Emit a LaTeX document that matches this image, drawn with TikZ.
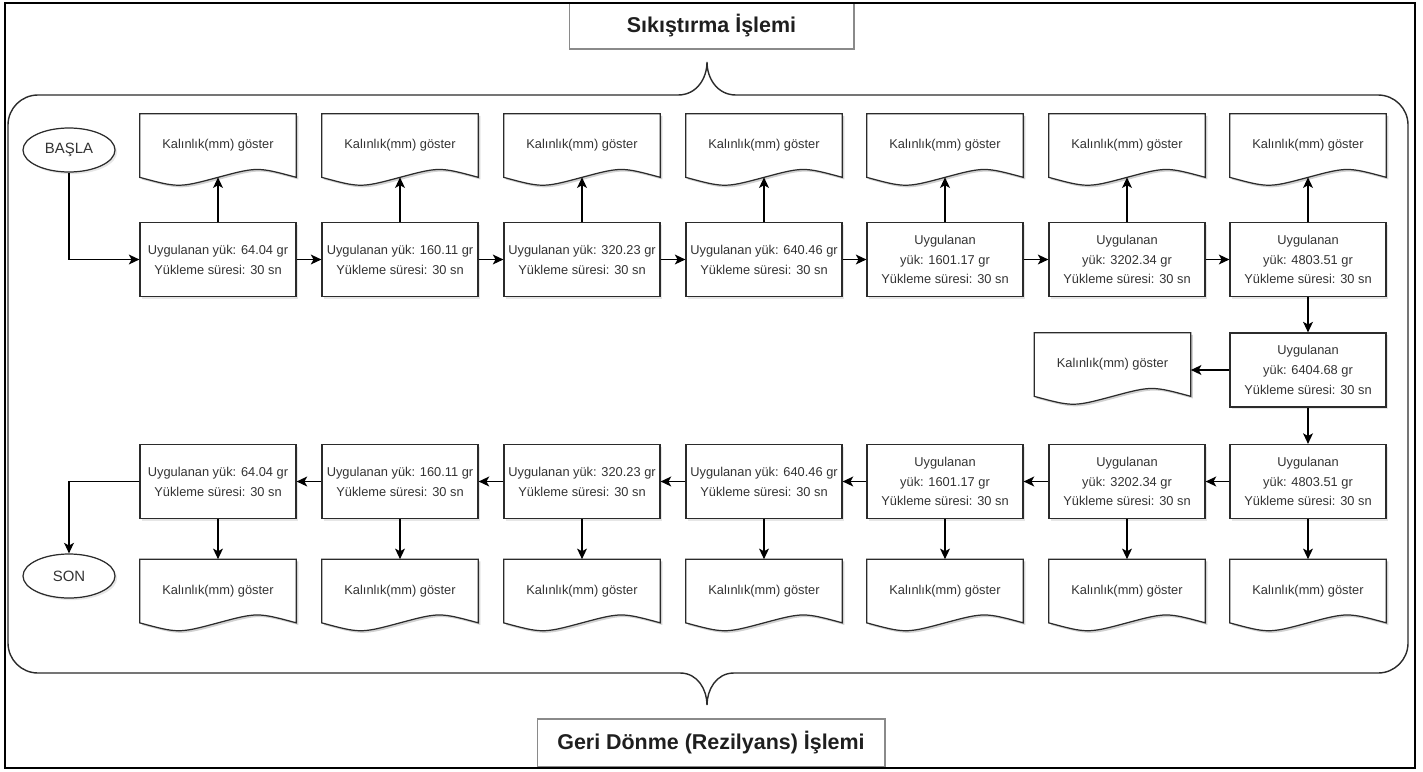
\documentclass[tikz,border=0pt]{standalone}
\usepackage{fontspec}
\setmainfont{Liberation Sans}
\usepackage{xcolor}
\usepackage{tikz}
\usetikzlibrary{positioning, arrows.meta, shapes.geometric, shadows, backgrounds}

\definecolor{yazi}{HTML}{333333}
\definecolor{cizgi}{HTML}{2B2B2B}
\definecolor{gricer}{HTML}{8A8A8A}

\tikzset{
  kutu/.style={draw=cizgi, line width=0.7pt, fill=white, minimum width=3.12cm, minimum height=1.48cm,
    inner sep=1pt, align=center, text=yazi, font=\fontsize{7.3}{11.3}\selectfont,
    drop shadow={shadow xshift=1.2pt, shadow yshift=-1.2pt, opacity=0.2}},
  belge/.style={minimum width=3.12cm, minimum height=1.26cm, inner sep=1pt, align=center,
    text=yazi, font=\fontsize{7.3}{11.3}\selectfont},
  uc/.style={ellipse, draw=cizgi, line width=0.7pt, fill=white, minimum width=1.84cm, minimum height=0.88cm,
    inner sep=0pt, text=yazi, font=\fontsize{8.5}{10}\selectfont,
    drop shadow={shadow xshift=1.2pt, shadow yshift=-1.2pt, opacity=0.2}},
  baslik/.style={draw=gricer, line width=0.6pt, fill=white, text=black!88, font=\fontsize{12.2}{14}\selectfont\bfseries},
  ok/.style={draw=black, line width=0.75pt, -{Stealth[length=6pt, width=5.6pt, inset=1.5pt]}},
  kap/.style={draw=cizgi, line width=0.8pt}
}

% dalgali belge kenari
\newcommand{\belgeciz}[1]{%
  \begin{scope}[on background layer]
    \fill[black, opacity=0.18, transform canvas={shift={(1.2pt,-1.2pt)}}] (#1.south west) -- (#1.north west) -- (#1.north east) -- (#1.south east)
      .. controls ([xshift=-0.78cm, yshift=0.21cm]#1.south east) .. (#1.south)
      .. controls ([xshift=0.78cm, yshift=-0.21cm]#1.south west) .. (#1.south west) -- cycle;
    \filldraw[fill=white, draw=cizgi, line width=0.7pt] (#1.south west) -- (#1.north west) -- (#1.north east) -- (#1.south east)
      .. controls ([xshift=-0.78cm, yshift=0.21cm]#1.south east) .. (#1.south)
      .. controls ([xshift=0.78cm, yshift=-0.21cm]#1.south west) .. (#1.south west) -- cycle;
  \end{scope}}

\begin{document}
\begin{tikzpicture}[x=0.02cm, y=-0.02cm]
\useasboundingbox (0,0) rectangle (1423,771);

% basliklar
\node[baslik, minimum width=5.7cm, minimum height=0.92cm] (sik) at (711.5,26) {Sıkıştırma İşlemi};
\node[baslik, minimum width=6.96cm, minimum height=0.96cm] (geri) at (711,743) {Geri Dönme (Rezilyans) İşlemi};

% kapsayan parantez
\draw[kap] (8,125) .. controls (8,108.4) and (21.4,95) .. (38,95) -- (678,95)
  .. controls (697,95) and (707,78) .. (707,62) .. controls (707,78) and (717,95) .. (736,95) -- (1378,95)
  .. controls (1394.6,95) and (1408,108.4) .. (1408,125) -- (1408,643)
  .. controls (1408,659.6) and (1394.6,673) .. (1378,673) -- (734,673)
  .. controls (716,673) and (707,690) .. (707,705) .. controls (707,690) and (698,673) .. (680,673) -- (38,673)
  .. controls (21.4,673) and (8,659.6) .. (8,643) -- cycle;

\node[uc] (basla) at (69,150) {BAŞLA};
\node[uc] (son) at (69,576) {SON};

% ust satir
\node[kutu] (u1) at (218,259.5) {Uygulanan yük: 64.04 gr\\Yükleme süresi: 30 sn};
\node[kutu] (u2) at (400,259.5) {Uygulanan yük: 160.11 gr\\Yükleme süresi: 30 sn};
\node[kutu] (u3) at (582,259.5) {Uygulanan yük: 320.23 gr\\Yükleme süresi: 30 sn};
\node[kutu] (u4) at (764,259.5) {Uygulanan yük: 640.46 gr\\Yükleme süresi: 30 sn};
\node[kutu] (u5) at (945,259.5) {Uygulanan\\yük: 1601.17 gr\\Yükleme süresi: 30 sn};
\node[kutu] (u6) at (1127,259.5) {Uygulanan\\yük: 3202.34 gr\\Yükleme süresi: 30 sn};
\node[kutu] (u7) at (1308,259.5) {Uygulanan\\yük: 4803.51 gr\\Yükleme süresi: 30 sn};

\node[belge] (ub1) at (218,145.5) {Kalınlık(mm) göster}; \belgeciz{ub1}
\node[belge] (ub2) at (400,145.5) {Kalınlık(mm) göster}; \belgeciz{ub2}
\node[belge] (ub3) at (582,145.5) {Kalınlık(mm) göster}; \belgeciz{ub3}
\node[belge] (ub4) at (764,145.5) {Kalınlık(mm) göster}; \belgeciz{ub4}
\node[belge] (ub5) at (945,145.5) {Kalınlık(mm) göster}; \belgeciz{ub5}
\node[belge] (ub6) at (1127,145.5) {Kalınlık(mm) göster}; \belgeciz{ub6}
\node[belge] (ub7) at (1308,145.5) {Kalınlık(mm) göster}; \belgeciz{ub7}

% orta
\node[kutu] (u8) at (1308,370) {Uygulanan\\yük: 6404.68 gr\\Yükleme süresi: 30 sn};
\node[belge] (ub8) at (1112.5,364.5) {Kalınlık(mm) göster}; \belgeciz{ub8}

% alt satir
\node[kutu] (g1) at (218,481.5) {Uygulanan yük: 64.04 gr\\Yükleme süresi: 30 sn};
\node[kutu] (g2) at (400,481.5) {Uygulanan yük: 160.11 gr\\Yükleme süresi: 30 sn};
\node[kutu] (g3) at (582,481.5) {Uygulanan yük: 320.23 gr\\Yükleme süresi: 30 sn};
\node[kutu] (g4) at (764,481.5) {Uygulanan yük: 640.46 gr\\Yükleme süresi: 30 sn};
\node[kutu] (g5) at (945,481.5) {Uygulanan\\yük: 1601.17 gr\\Yükleme süresi: 30 sn};
\node[kutu] (g6) at (1127,481.5) {Uygulanan\\yük: 3202.34 gr\\Yükleme süresi: 30 sn};
\node[kutu] (g7) at (1308,481.5) {Uygulanan\\yük: 4803.51 gr\\Yükleme süresi: 30 sn};

\node[belge] (gb1) at (218,591) {Kalınlık(mm) göster}; \belgeciz{gb1}
\node[belge] (gb2) at (400,591) {Kalınlık(mm) göster}; \belgeciz{gb2}
\node[belge] (gb3) at (582,591) {Kalınlık(mm) göster}; \belgeciz{gb3}
\node[belge] (gb4) at (764,591) {Kalınlık(mm) göster}; \belgeciz{gb4}
\node[belge] (gb5) at (945,591) {Kalınlık(mm) göster}; \belgeciz{gb5}
\node[belge] (gb6) at (1127,591) {Kalınlık(mm) göster}; \belgeciz{gb6}
\node[belge] (gb7) at (1308,591) {Kalınlık(mm) göster}; \belgeciz{gb7}

% oklar
\draw[ok] (basla.south) |- (u1.west);
\draw[ok] (u1) -- (u2);
\draw[ok] (u2) -- (u3);
\draw[ok] (u3) -- (u4);
\draw[ok] (u4) -- (u5);
\draw[ok] (u5) -- (u6);
\draw[ok] (u6) -- (u7);
\draw[ok] (u1.north) -- (ub1.south);
\draw[ok] (u2.north) -- (ub2.south);
\draw[ok] (u3.north) -- (ub3.south);
\draw[ok] (u4.north) -- (ub4.south);
\draw[ok] (u5.north) -- (ub5.south);
\draw[ok] (u6.north) -- (ub6.south);
\draw[ok] (u7.north) -- (ub7.south);
\draw[ok] (u7) -- (u8);
\draw[ok] (u8.west) -- (u8.west -| ub8.east);
\draw[ok] (u8) -- (g7);
\draw[ok] (g7) -- (g6);
\draw[ok] (g6) -- (g5);
\draw[ok] (g5) -- (g4);
\draw[ok] (g4) -- (g3);
\draw[ok] (g3) -- (g2);
\draw[ok] (g2) -- (g1);
\draw[ok] (g1.west) -| (son.north);
\draw[ok] (g1.south) -- (gb1.north);
\draw[ok] (g2.south) -- (gb2.north);
\draw[ok] (g3.south) -- (gb3.north);
\draw[ok] (g4.south) -- (gb4.north);
\draw[ok] (g5.south) -- (gb5.north);
\draw[ok] (g6.south) -- (gb6.north);
\draw[ok] (g7.south) -- (gb7.north);

% dis cerceve
\draw[line width=1.5pt] (5,3) rectangle (1415,768);
\end{tikzpicture}
\end{document}
